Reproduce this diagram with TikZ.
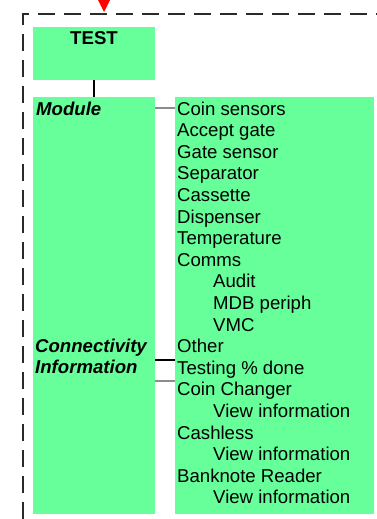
\documentclass[tikz,border=0pt]{standalone}
\usepackage{fontspec}
\setmainfont{Liberation Sans}
\definecolor{boxgreen}{HTML}{66FF99}
\definecolor{dashgray}{HTML}{2A2A2A}
\definecolor{linkgray}{HTML}{8C8C8C}
\begin{document}
\begin{tikzpicture}[x=1pt,y=-1pt,
  greenbox/.style={fill=boxgreen,draw=none,anchor=north west,inner sep=0pt},
  lbl/.style={anchor=base west,inner sep=0pt,font=\fontsize{18.6}{21.45}\selectfont},
  lblb/.style={lbl,font=\fontsize{18.6}{21.45}\selectfont\bfseries\itshape},
  frame/.style={draw=dashgray,line width=1.8pt,dash pattern=on 17pt off 9pt},
  blacklink/.style={draw=black,line width=1.4pt},
  graylink/.style={draw=linkgray,line width=1.8pt}]
\useasboundingbox (0,0) rectangle (377,519);
% dashed frame
\coordinate (fTL) at (23,14);
\coordinate (fTR) at (377,14);
\coordinate (fBL) at (23,519);
\draw[frame] (fBL) -- (fTL) -- (fTR);
% red arrowhead
\fill[red] (98,0) -- (110,0) -- (104,12) -- cycle;
% boxes
\node[greenbox,minimum width=122pt,minimum height=53pt] (test) at (33,27) {};
\node[greenbox,minimum width=122pt,minimum height=417pt] (left) at (33,97) {};
\node[greenbox,minimum width=199pt,minimum height=417pt] (right) at (175,97) {};
\node[anchor=base,inner sep=0pt,font=\fontsize{18.6}{21}\selectfont\bfseries] (testlbl) at (94,45) {TEST};
% left labels
\node[lblb] (module) at (36,115) {Module};
\node[lblb] (conn1) at (35,352) {Connectivity};
\node[lblb] (conn2) at (35,373.5) {Information};
% right list
\foreach \t/\ind [count=\i from 0] in {Coin sensors/0,Accept gate/0,Gate sensor/0,Separator/0,Cassette/0,Dispenser/0,Temperature/0,Comms/0,Audit/1,MDB periph/1,VMC/1,Other/0,Testing \% done/0,Coin Changer/0,View information/1,Cashless/0,View information/1,Banknote Reader/0,View information/1}
  \node[lbl] (item\i) at (177+36*\ind,115+21.6*\i) {\t};
% connectors
\draw[blacklink] (test.south -| 94,0) -- (left.north -| 94,0);
\draw[graylink] (left.east |- 0,108) -- (right.west |- 0,108);
\draw[blacklink] (left.east |- 0,360) -- (right.west |- 0,360);
\draw[graylink] (left.east |- 0,381) -- (right.west |- 0,381);
\end{tikzpicture}
\end{document}
